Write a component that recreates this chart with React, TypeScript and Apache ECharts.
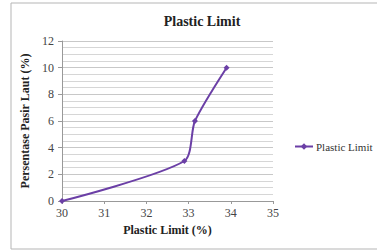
import React, { useEffect, useRef } from "react";
import * as echarts from "echarts";

const seriesName = "Plastic Limit";
const plasticLimit = [30, 32.9, 33.15, 33.9];
const persentase = [0, 3, 6, 10];
const xTicks = [30, 31, 32, 33, 34, 35];
const yTicks = [0, 2, 4, 6, 8, 10, 12];

const FONT = "Liberation Serif";
const PURPLE = "#6b3fa6";

export default function App() {
  const ref = useRef<HTMLDivElement>(null);
  useEffect(() => {
    if (!ref.current) return;
    const chart = echarts.init(ref.current, null, { renderer: "svg" });
    chart.setOption({
      animation: false,
      backgroundColor: "#ffffff",
      textStyle: { fontFamily: FONT },
      title: {
        text: "Plastic Limit",
        left: 197,
        textAlign: "center",
        top: 9,
        textStyle: { fontFamily: FONT, fontSize: 14, fontWeight: "bold", color: "#222" },
      },
      graphic: [
        {
          type: "rect",
          shape: { x: 11, y: 3, width: 380, height: 246 },
          style: { fill: "none", stroke: "#b5b5b5", lineWidth: 1 },
          silent: true,
        },
      ],
      legend: {
        left: 289,
        top: 136,
        itemWidth: 18,
        itemHeight: 8,
        itemGap: 2,
        data: [seriesName],
        textStyle: { fontFamily: FONT, fontSize: 11, color: "#333", padding: [0, 0, 0, -2] },
      },
      grid: { left: 62, right: 104, top: 41, bottom: 51 },
      xAxis: {
        type: "value",
        min: xTicks[0],
        max: xTicks[xTicks.length - 1],
        interval: 1,
        name: "Plastic Limit (%)",
        nameLocation: "middle",
        nameGap: 21,
        nameTextStyle: { fontFamily: FONT, fontSize: 12, fontWeight: "bold", color: "#222" },
        axisLine: { lineStyle: { color: "#999" } },
        axisTick: { show: true, length: 3, lineStyle: { color: "#999" } },
        axisLabel: { fontFamily: FONT, fontSize: 12, color: "#444", margin: 6 },
        splitLine: { show: false },
      },
      yAxis: {
        type: "value",
        min: yTicks[0],
        max: yTicks[yTicks.length - 1],
        interval: 2,
        name: "Persentase Pasir Laut (%)",
        nameLocation: "middle",
        nameGap: 26,
        nameTextStyle: { fontFamily: FONT, fontSize: 12, fontWeight: "bold", color: "#222" },
        axisLine: { show: true, lineStyle: { color: "#999" } },
        axisTick: { show: true, length: 4, lineStyle: { color: "#999" } },
        axisLabel: { fontFamily: FONT, fontSize: 12, color: "#444", margin: 8 },
        splitLine: { show: true, lineStyle: { color: "#c8c8c8", width: 1 } },
        minorTick: { show: false, splitNumber: 4 },
        minorSplitLine: { show: true, lineStyle: { color: "#d6d6d6", width: 1 } },
      },
      series: [
        {
          name: seriesName,
          type: "line",
          smooth: 0.25,
          data: plasticLimit.map((x, i) => [x, persentase[i]]),
          symbol: "diamond",
          symbolSize: 6,
          showSymbol: true,
          lineStyle: { color: PURPLE, width: 2 },
          itemStyle: { color: PURPLE },
        },
      ],
    });
    return () => chart.dispose();
  }, []);
  return (
    <div
      ref={ref}
      style={{ position: "absolute", left: 0, top: 0, width: 377, height: 252 }}
    />
  );
}
